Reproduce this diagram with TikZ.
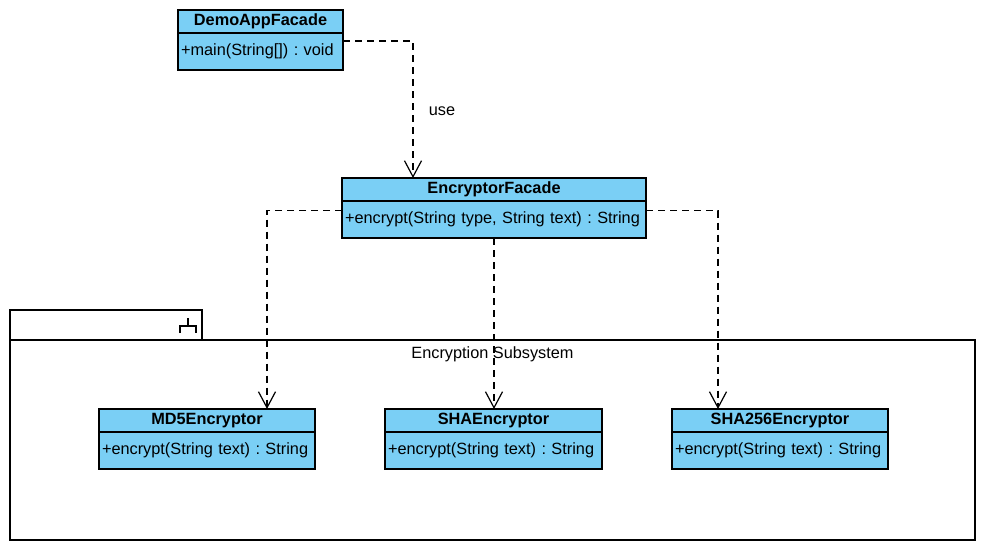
\documentclass[tikz,border=0pt]{standalone}
\usepackage{fontspec}
\setmainfont{Liberation Sans}
\usepackage{xcolor}
\usetikzlibrary{arrows.meta}
\frenchspacing
\definecolor{classblue}{RGB}{122,207,245}
\tikzset{classhead/.style={draw, fill=classblue, minimum height=23pt, inner sep=0pt, outer sep=0pt, font=\fontsize{16.3}{19}\selectfont\bfseries},
 classops/.style={draw, fill=classblue, minimum height=37pt, inner xsep=3pt, inner ysep=0pt, outer sep=0pt, align=left},
 dep/.style={dash pattern=on 7pt off 5pt, -{Straight Barb[length=16pt,width=17pt]}},
 }

\begin{document}
\begin{tikzpicture}[x=1pt, y=-1pt, line width=1.2pt, font=\fontsize{16.3}{19}\selectfont]
        \useasboundingbox (0,0) rectangle (986,550);
        % package
        \draw (10,310) rectangle (202,340);
        \draw (10,340) rectangle (975,540);
        \draw (180,333) -- (180,326) -- (196,326) -- (196,333) (188,326) -- (188,318);
        \node (pkg) at (492.5,354) {Encryption Subsystem};
        % classes
        \node[classhead, minimum width=165pt, anchor=north west] (demo) at (178,10) {DemoAppFacade};
        \node[classops, text width=159pt, anchor=north west] (demo ops) at (demo.south west) {+main(String[]) : void};
        \node[classhead, minimum width=304pt, anchor=north west] (facade) at (342,178) {EncryptorFacade};
        \node[classops, text width=298pt, anchor=north west] (facade ops) at (facade.south west) {+encrypt(String type, String text) : String};
        \node[classhead, minimum width=216pt, anchor=north west] (md5) at (99,409) {MD5Encryptor};
        \node[classops, text width=210pt, anchor=north west] (md5 ops) at (md5.south west) {+encrypt(String text) : String};
        \node[classhead, minimum width=217pt, anchor=north west] (sha) at (385,409) {SHAEncryptor};
        \node[classops, text width=211pt, anchor=north west] (sha ops) at (sha.south west) {+encrypt(String text) : String};
        \node[classhead, minimum width=216pt, anchor=north west] (sha256) at (672,409) {SHA256Encryptor};
        \node[classops, text width=210pt, anchor=north west] (sha256 ops) at (sha256.south west) {+encrypt(String text) : String};
        % dependencies
        \draw[dep] ([yshift=-8pt]demo ops.north east) -| ([xshift=-81pt]facade.north);
        \node (use) at (442,111) {use};
        \draw[dep] ([yshift=9pt]facade ops.west) -| ([xshift=60pt]md5.north);
        \draw[dep] (facade ops.south) -- (facade ops.south |- sha.north);
        \draw[dep] ([yshift=9pt]facade ops.east) -| ([xshift=-62pt]sha256.north);
    \end{tikzpicture}
\end{document}
